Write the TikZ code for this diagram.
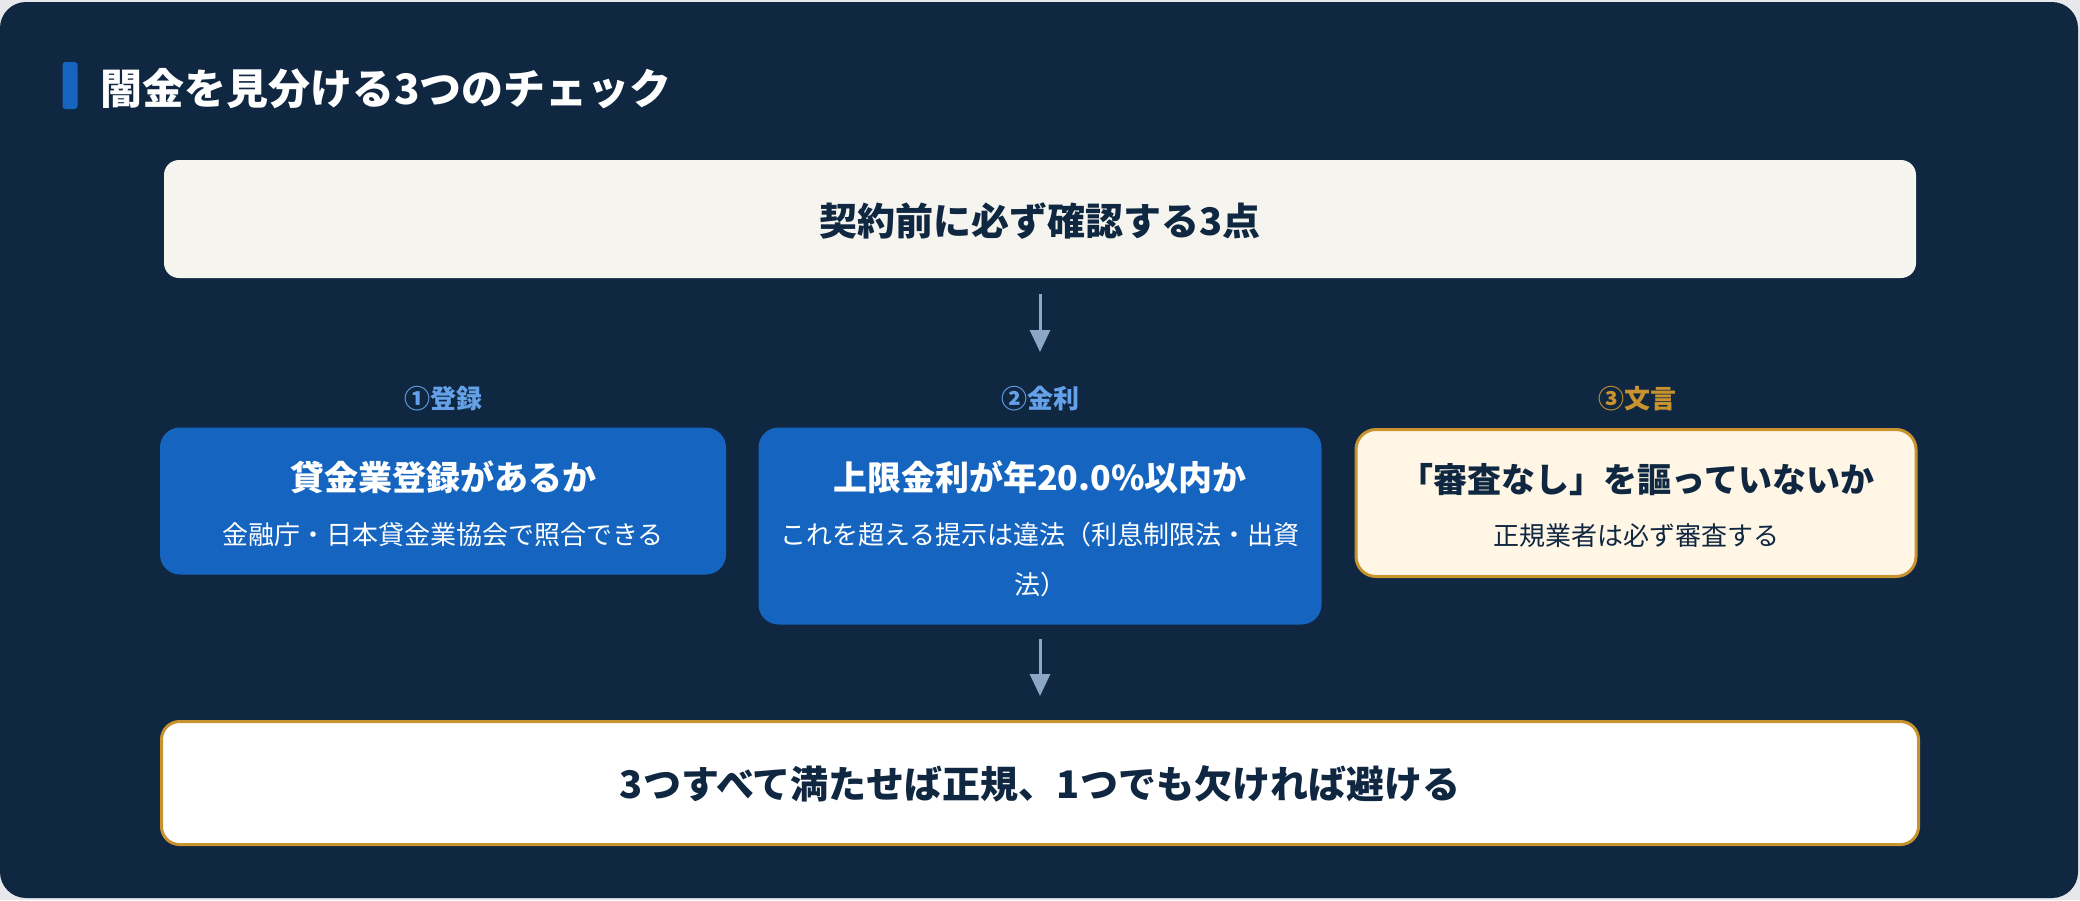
\documentclass[tikz,border=0pt]{standalone}
\usepackage{fontspec}
\setmainfont{Noto Sans CJK JP}
\usetikzlibrary{arrows.meta}
\definecolor{pagebg}{HTML}{E6E8EC}
\definecolor{navy}{HTML}{0F2740}
\definecolor{boxblue}{HTML}{1565C0}
\definecolor{topcream}{HTML}{F5F4EF}
\definecolor{warmcream}{HTML}{FFF6E6}
\definecolor{gold}{HTML}{C8922F}
\definecolor{lblue}{HTML}{64A1E8}
\definecolor{arrowc}{HTML}{8CA6C6}
\tikzset{
  bar/.style={fill=boxblue, rounded corners=3pt, minimum width=15pt, minimum height=47pt, inner sep=0pt},
  ttl/.style={font=\fontsize{42}{42}\selectfont\bfseries, text=white, inner sep=0pt, text height=37pt, text depth=5pt},
  plainbox/.style={inner sep=0pt, rounded corners=#1},
  bigtxt/.style={font=\fontsize{38}{38}\selectfont\bfseries, text=navy, inner sep=0pt, text height=33.4pt, text depth=4.6pt},
  lab/.style={font=\fontsize{26}{26}\selectfont\bfseries, inner sep=0pt, text height=22.9pt, text depth=3.1pt},
  btitle/.style={font=\fontsize{34}{34}\selectfont\bfseries, inner sep=0pt, text height=29.9pt, text depth=4.1pt},
  bsub/.style={font=\fontsize{26}{26}\selectfont, inner sep=0pt, text height=22.9pt, text depth=3.1pt},
  arr/.style={draw=arrowc, line width=3pt, -{Triangle[width=20pt,length=22pt]}},
}
\begin{document}
\begin{tikzpicture}[x=1pt,y=-1pt]
\useasboundingbox (0,0) rectangle (2080,900);
\fill[pagebg] (0,0) rectangle (2080,900);
\fill[navy, rounded corners=26pt] (0,2) rectangle (2078,898);

% title
\node[bar] (bar) at (70,85.5) {};
\node[ttl, anchor=west] (title) at (100,88) {闇金を見分ける3つのチェック};

% top box
\node[plainbox=15pt, fill=topcream, minimum width=1752pt, minimum height=118pt] (top) at (1040,219) {};
\node[bigtxt] (toptxt) at (1040,221) {契約前に必ず確認する3点};

% labels
\node[lab, text=lblue] (l1) at (443,399) {①登録};
\node[lab, text=lblue] (l2) at (1040,399) {②金利};
\node[lab, text=gold] (l3) at (1637,399) {③文言};

% box 1
\node[plainbox=20pt, fill=boxblue, minimum width=566pt, minimum height=147pt] (b1) at (443,501) {};
\node[btitle, text=white] (b1t) at (443,478) {貸金業登録があるか};
\node[bsub, text=white] (b1s) at (443,535) {金融庁・日本貸金業協会で照合できる};

% box 2
\node[plainbox=20pt, fill=boxblue, minimum width=563pt, minimum height=197pt] (b2) at (1040,526) {};
\node[btitle, text=white] (b2t) at (1040,478) {上限金利が年20.0\%以内か};
\node[bsub, text=white] (b2s) at (1040,535) {これを超える提示は違法（利息制限法・出資};
\node[bsub, text=white] (b2s2) at (1040,585) {法）};

% box 3
\node[plainbox=20pt, fill=warmcream, draw=gold, line width=3pt, minimum width=560pt, minimum height=147pt] (b3) at (1636,503) {};
\node[btitle, text=navy] (b3t) at (1637,480) {「審査なし」を謳っていないか};
\node[bsub, text=navy] (b3s) at (1636,536) {正規業者は必ず審査する};

% bottom box
\node[plainbox=18pt, fill=white, draw=gold, line width=3pt, minimum width=1757pt, minimum height=123pt] (bot) at (1040,783) {};
\node[bigtxt] (bott) at (1040,784) {3つすべて満たせば正規、1つでも欠ければ避ける};

% arrows
\coordinate (a1e) at (1040,352);
\draw[arr, shorten <=16pt] (top.south) -- (a1e);
\draw[arr, shorten <=14pt, shorten >=24pt] (b2.south) -- (bot.north);
\end{tikzpicture}
\end{document}
